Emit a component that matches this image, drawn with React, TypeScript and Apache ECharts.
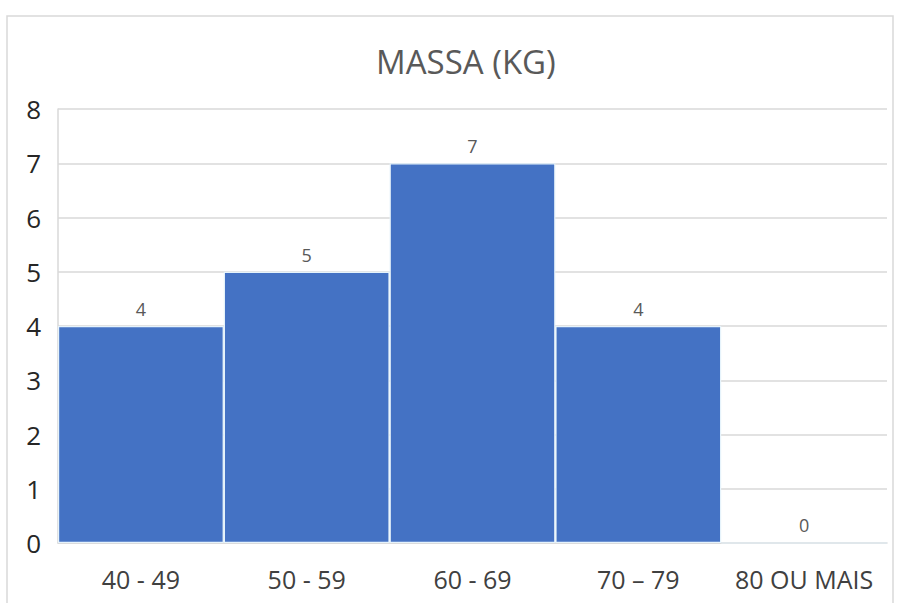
import React, { useEffect, useRef } from "react";
import * as echarts from "echarts";

const categories = ["40 - 49", "50 - 59", "60 - 69", "70 – 79", "80 OU MAIS"];
const counts = [4, 5, 7, 4, 0];
const yTicks = [0, 1, 2, 3, 4, 5, 6, 7, 8];
const titleText = "MASSA (KG)";

export default function App() {
  const ref = useRef<HTMLDivElement>(null);
  useEffect(() => {
    if (!ref.current) return;
    const chart = echarts.init(ref.current, undefined, { renderer: "svg" });
    const font = "'Open Sans', 'Noto Sans', sans-serif";
    chart.setOption({
      animation: false,
      backgroundColor: "#ffffff",
      title: {
        text: titleText,
        left: 371,
        top: 40,
        textStyle: { fontFamily: font, fontSize: 33, fontWeight: "normal", color: "#595959" },
      },
      graphic: [
        {
          type: "rect",
          shape: { x: 7, y: 16, width: 886, height: 620 },
          style: { fill: "none", stroke: "#d9d9d9", lineWidth: 1.5 },
          silent: true,
        },
      ],
      grid: { left: 58, right: 10, top: 109, bottom: 60, containLabel: false },
      xAxis: {
        type: "category",
        data: categories,
        axisTick: { show: false },
        axisLine: { show: true, lineStyle: { color: "#d9d9d9", width: 1.5 } },
        axisLabel: { fontFamily: font, fontSize: 25, color: "#404040", margin: 23, interval: 0 },
      },
      yAxis: {
        type: "value",
        min: yTicks[0],
        max: yTicks[yTicks.length - 1],
        interval: 1,
        axisLine: { show: true, lineStyle: { color: "#d9d9d9", width: 1.5 } },
        axisTick: { show: false },
        splitLine: { show: true, lineStyle: { color: "#d9d9d9", width: 1.5 } },
        axisLabel: { fontFamily: font, fontSize: 26, color: "#262626", margin: 17 },
      },
      series: [
        {
          type: "bar",
          data: counts,
          barCategoryGap: "0%",
          itemStyle: { color: "#4472C4", borderColor: "#e6f3fb", borderWidth: 1.2 },
          label: {
            show: true,
            position: "top",
            distance: 8,
            fontFamily: font,
            fontSize: 18,
            color: "#595959",
          },
        },
      ],
    });
    return () => chart.dispose();
  }, []);
  return (
    <div
      ref={ref}
      style={{ position: "fixed", left: 0, top: 0, width: 897, height: 603 }}
    />
  );
}
